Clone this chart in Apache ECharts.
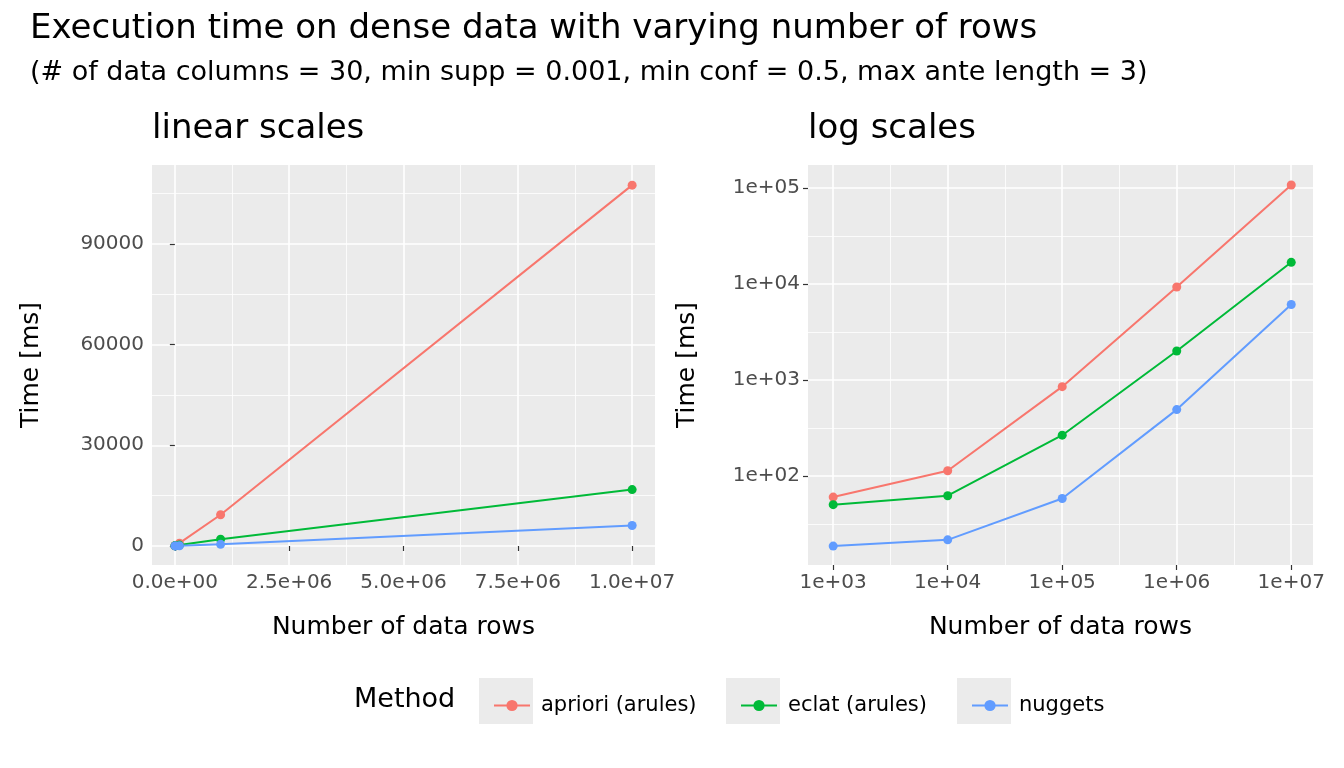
<!DOCTYPE html>
<html><head><meta charset="utf-8">
<script src="https://cdn.jsdelivr.net/npm/echarts@6/dist/echarts.min.js"></script>
<style>html,body{margin:0;background:#fff}#c{width:1344px;height:768px}</style>
</head><body><div id="c"></div>
<script>
const rows = [1000, 10000, 100000, 1000000, 10000000];
const apriori = [60, 113, 850, 9300, 107500];
const eclat = [50, 62, 265, 2000, 16800];
const nuggets = [18.5, 21.5, 58, 490, 6100];
const methods = ['apriori (arules)', 'eclat (arules)', 'nuggets'];
const colors = ['#F8766D', '#00BA38', '#619CFF'];
const linXTicks = [0, 2500000, 5000000, 7500000, 10000000];
const linYTicks = [0, 30000, 60000, 90000];
const logTicks = [3, 4, 5, 6, 7];
const logYTicks = [2, 3, 4, 5];

const FONT = 'DejaVu Sans';
function sci(v){ if(v===0) return '0.0e+00'; const e=Math.floor(Math.log10(v)+1e-9); const m=v/Math.pow(10,e); return m.toFixed(1)+'e+'+String(e).padStart(2,'0'); }
function lg(v){ return '1e+0'+Math.round(v); }
const L = Math.log10;
const all = [apriori, eclat, nuggets];
const lab = {color:'#4D4D4D', fontSize:20, fontFamily:FONT};
const nameSt = {color:'#000', fontSize:25, fontFamily:FONT};
const wl = {show:true, lineStyle:{color:'#fff', width:1.6}};
const tk = {show:true, length:5, lineStyle:{color:'#333', width:1.2}};
function ml(xs, ys){
  return {silent:true, symbol:'none', label:{show:false}, lineStyle:{color:'#fff', width:0.8, type:'solid'},
    data:[...xs.map(x=>({xAxis:x})), ...ys.map(y=>({yAxis:y}))]};
}
const series = [];
all.forEach((d,i)=>{
  series.push({name:methods[i], type:'line', xAxisIndex:0, yAxisIndex:0, data:rows.map((r,j)=>[r,d[j]]),
    symbol:'circle', symbolSize:9, itemStyle:{color:colors[i]}, lineStyle:{width:2, color:colors[i]}, z:5,
    markLine: i===0 ? ml([1250000,3750000,6250000,8750000],[15000,45000,75000,105000]) : undefined});
  series.push({name:methods[i], type:'line', xAxisIndex:1, yAxisIndex:1, data:rows.map((r,j)=>[L(r),L(d[j])]),
    symbol:'circle', symbolSize:9, itemStyle:{color:colors[i]}, lineStyle:{width:2, color:colors[i]}, z:5,
    markLine: i===0 ? ml([3.5,4.5,5.5,6.5],[1.5,2.5,3.5,4.5]) : undefined});
});
const legendLefts = [488, 735, 966];
const chart = echarts.init(document.getElementById('c'));
chart.setOption({
  animation:false,
  textStyle:{fontFamily:FONT},
  graphic:[
    {type:'rect', shape:{x:152,y:165,width:503,height:400}, style:{fill:'#EBEBEB'}, z:-10},
    {type:'rect', shape:{x:808,y:165,width:505,height:400}, style:{fill:'#EBEBEB'}, z:-10},
    ...legendLefts.map(x=>({type:'rect', shape:{x:x-9,y:678,width:54,height:46}, style:{fill:'#EBEBEB'}, z:-10})),
    {type:'text', left:30, top:12, style:{text:'Execution time on dense data with varying number of rows', fontSize:34, fontFamily:FONT, fill:'#000'}},
    {type:'text', left:30, top:59, style:{text:'(# of data columns = 30, min supp = 0.001, min conf = 0.5, max ante length = 3)', fontSize:27, fontFamily:FONT, fill:'#000'}},
    {type:'text', left:152, top:112, style:{text:'linear scales', fontSize:34, fontFamily:FONT, fill:'#000'}},
    {type:'text', left:808, top:112, style:{text:'log scales', fontSize:34, fontFamily:FONT, fill:'#000'}},
    {type:'text', left:354, top:686, style:{text:'Method', fontSize:27, fontFamily:FONT, fill:'#000'}}
  ],
  legend: methods.map((m,i)=>({data:[m], left:legendLefts[i], top:690, itemWidth:36, itemHeight:14,
    textStyle:{fontSize:21, fontFamily:FONT, color:'#000', padding:[0,0,0,6]}})),
  grid:[{left:152, top:165, width:503, height:400, containLabel:false},
        {left:808, top:165, width:505, height:400, containLabel:false}],
  xAxis:[
    {type:'value', gridIndex:0, min:-500000, max:10500000, name:'Number of data rows', nameLocation:'middle', nameGap:50, nameTextStyle:nameSt,
     axisLine:{show:false}, axisTick:Object.assign({customValues:linXTicks}, tk),
     axisLabel:Object.assign({customValues:linXTicks, formatter:sci, margin:8}, lab), splitLine:wl},
    {type:'value', gridIndex:1, min:2.78, max:7.19, name:'Number of data rows', nameLocation:'middle', nameGap:50, nameTextStyle:nameSt,
     axisLine:{show:false}, axisTick:Object.assign({customValues:logTicks}, tk),
     axisLabel:Object.assign({customValues:logTicks, formatter:lg, margin:8}, lab), splitLine:wl}
  ],
  yAxis:[
    {type:'value', gridIndex:0, min:-5660, max:113500, name:'Time [ms]', nameLocation:'middle', nameGap:108, nameTextStyle:nameSt,
     axisLine:{show:false}, axisTick:Object.assign({customValues:linYTicks}, tk),
     axisLabel:Object.assign({customValues:linYTicks, margin:8, formatter:v=>String(v)}, lab), splitLine:wl},
    {type:'value', gridIndex:1, min:1.07, max:5.24, name:'Time [ms]', nameLocation:'middle', nameGap:108, nameTextStyle:nameSt,
     axisLine:{show:false}, axisTick:Object.assign({customValues:logYTicks}, tk),
     axisLabel:Object.assign({customValues:logYTicks, formatter:lg, margin:8}, lab), splitLine:wl}
  ],
  series
});
</script></body></html>
